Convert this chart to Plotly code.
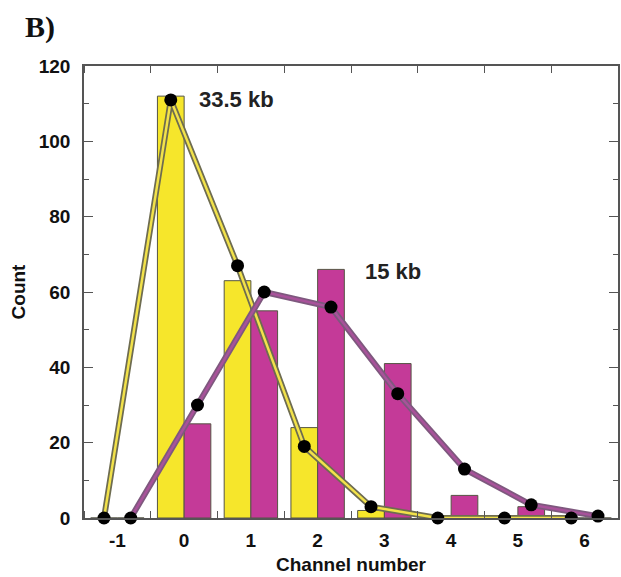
import plotly.graph_objects as go

channels = [-1, 0, 1, 2, 3, 4, 5, 6]
counts_33kb = [0, 112, 63, 24, 2, 0, 0, 0]
counts_15kb = [0, 25, 55, 66, 41, 6, 3, 0]
fit_33kb = [0, 111, 67, 19, 3, 0, 0, 0]
fit_15kb = [0, 30, 60, 56, 33, 13, 3.5, 0.5]
label_33kb = "33.5 kb"
label_15kb = "15 kb"

YELLOW = "#F6E62B"
MAGENTA = "#C43A98"
EDGE = "#555544"
off = 0.2
bw = 0.4

x_y = [c - off for c in channels]
x_m = [c + off for c in channels]

fig = go.Figure()
fig.add_trace(go.Bar(x=x_y, y=counts_33kb, width=bw, marker=dict(color=YELLOW, line=dict(color=EDGE, width=1))))
fig.add_trace(go.Bar(x=x_m, y=counts_15kb, width=bw, marker=dict(color=MAGENTA, line=dict(color=EDGE, width=1))))

fig.add_trace(go.Scatter(x=x_y, y=fit_33kb, mode="lines", line=dict(color="#6E6C50", width=6), cliponaxis=False))
fig.add_trace(go.Scatter(x=x_y, y=fit_33kb, mode="lines", line=dict(color="#F2E24A", width=2.5), cliponaxis=False))
fig.add_trace(go.Scatter(x=x_m, y=fit_15kb, mode="lines", line=dict(color="#7E587E", width=6), cliponaxis=False))
fig.add_trace(go.Scatter(x=x_m, y=fit_15kb, mode="lines", line=dict(color="#A8529A", width=2.5), cliponaxis=False))
fig.add_trace(go.Scatter(x=x_y, y=fit_33kb, mode="markers", marker=dict(color="black", size=13), cliponaxis=False))
fig.add_trace(go.Scatter(x=x_m, y=fit_15kb, mode="markers", marker=dict(color="black", size=13), cliponaxis=False))

font_b = "Liberation Sans"
fig.update_layout(
    width=621, height=577,
    margin=dict(l=84, r=3, t=66, b=59, autoexpand=False),
    plot_bgcolor="white", paper_bgcolor="white",
    showlegend=False, barmode="overlay",
    font=dict(family=font_b, color="#111111"),
    xaxis=dict(
        range=[-1.5, 6.5], tickmode="array", tickvals=channels, ticktext=[f"<b>{c}</b>" for c in channels],
        ticks="", showgrid=False, zeroline=False, ticklabelstandoff=4,
        showline=True, linecolor="#555555", linewidth=1.5, mirror="ticks",
        minor=dict(tickmode="linear", tick0=0.5, dtick=1, ticks="inside", ticklen=7, tickcolor="#555555", showgrid=False),
        tickfont=dict(size=19, family=font_b),
        title=dict(text="<b>Channel number</b>", font=dict(size=19, family=font_b), standoff=8),
    ),
    yaxis=dict(
        range=[0, 120], tickmode="linear", tick0=0, dtick=20,
        ticks="inside", ticklen=9, tickcolor="#555555", showgrid=False, zeroline=False,
        showline=True, linecolor="#555555", linewidth=1.5, mirror="ticks", ticklabelstandoff=8,
        minor=dict(tickmode="linear", tick0=10, dtick=20, ticks="inside", ticklen=5, tickcolor="#555555", showgrid=False),
        tickprefix="<b>", ticksuffix="</b>",
        tickfont=dict(size=19, family=font_b),
        title=dict(text="<b>Count</b>", font=dict(size=19, family=font_b), standoff=8),
    ),
)
fig.add_annotation(text="<b>B)</b>", xref="paper", yref="paper", x=-0.114, y=1.086, xanchor="left", yanchor="middle",
                   showarrow=False, font=dict(family="Liberation Serif", size=30, color="#111111"))
fig.add_annotation(text=f"<b>{label_33kb}</b>", x=0.2, y=111, xanchor="left", yanchor="middle", showarrow=False,
                   font=dict(size=22, family=font_b, color="#222222"))
fig.add_annotation(text=f"<b>{label_15kb}</b>", x=2.68, y=65.5, xanchor="left", yanchor="middle", showarrow=False,
                   font=dict(size=22, family=font_b, color="#222222"))

fig.write_html("out.html", config={"displayModeBar": False},
               post_script="document.body.style.margin='0';document.body.style.overflow='hidden';")
